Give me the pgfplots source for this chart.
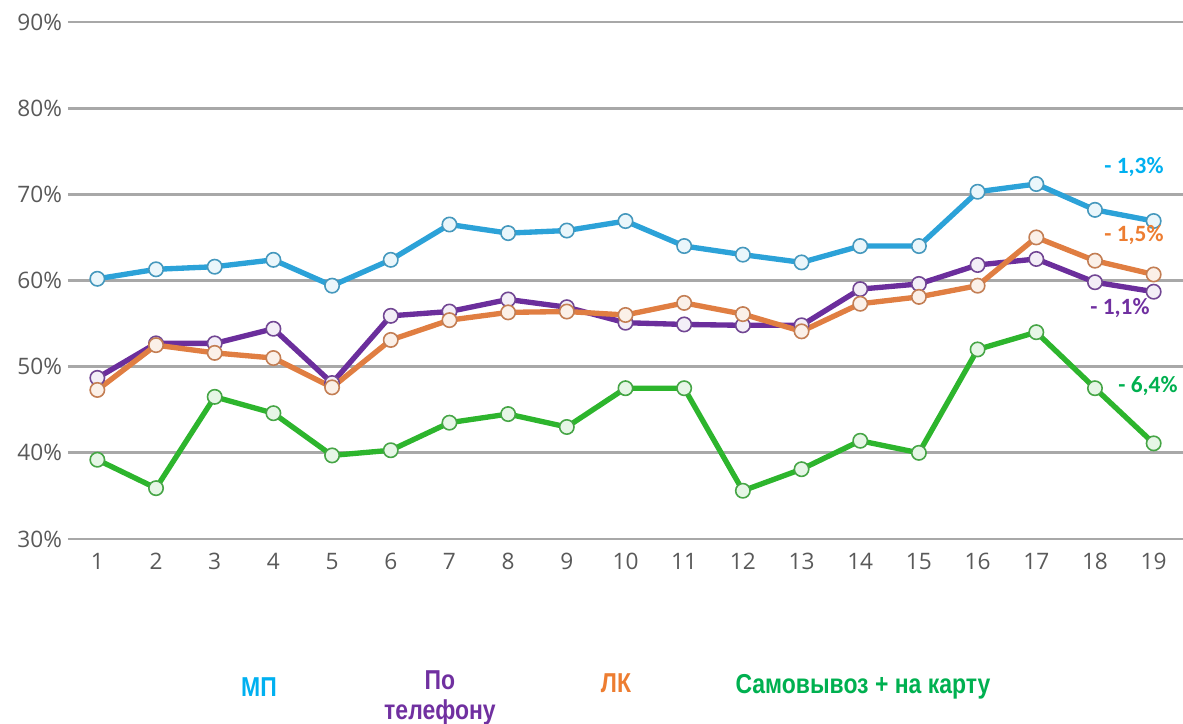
\documentclass[border=0pt]{standalone}
\usepackage{pgfplots}
\pgfplotsset{compat=1.18}
\usepackage{fontspec}
\setmainfont{Open Sans}
\newfontfamily\annfont{Carlito}
\newfontfamily\legfont[FakeStretch=0.84]{Liberation Sans}
\definecolor{cMP}{HTML}{2CA2D8}
\definecolor{cPh}{HTML}{6B2E9C}
\definecolor{cLK}{HTML}{E07E42}
\definecolor{cSV}{HTML}{2DB52D}
\definecolor{tMP}{HTML}{00B0F0}
\definecolor{tPh}{HTML}{7030A0}
\definecolor{tLK}{HTML}{ED7D31}
\definecolor{tSV}{HTML}{00B050}
\definecolor{tick}{HTML}{595959}
\definecolor{gridc}{HTML}{A8A8A8}
\begin{document}
\begin{tikzpicture}[x=0.75pt,y=-0.75pt]
\path[use as bounding box] (0,0) rectangle (1183,724);
\begin{axis}[
  at={(51pt,-404.25pt)}, anchor=south west,
  scale only axis, width=836.25pt, height=387.75pt,
  xmin=0.5, xmax=19.5, ymin=30, ymax=90,
  xtick={1,...,19}, ytick={30,40,...,90},
  yticklabel={\pgfmathprintnumber{\tick}\%},
  /pgf/number format/assume math mode=true,
  axis line style={draw=none},
  major tick length=0pt,
  ymajorgrids, grid style={gridc, line width=2.2pt},
  tick label style={font=\fontsize{17}{20}\selectfont, text=tick},
  yticklabel style={xshift=-1pt},
  xticklabel style={yshift=-7pt},
  clip=false,
  every axis plot/.append style={line width=4pt, mark=*, mark size=5.4pt, line join=round},
]
\addplot[cMP, mark options={fill=cMP!10!white, draw=cMP!70!gray, line width=1.2pt}] coordinates {
(1,60.2)(2,61.3)(3,61.6)(4,62.4)(5,59.4)(6,62.4)(7,66.5)(8,65.5)(9,65.8)(10,66.9)
(11,64.0)(12,63.0)(13,62.1)(14,64.0)(15,64.0)(16,70.3)(17,71.2)(18,68.2)(19,66.9)};
\addplot[cPh, mark options={fill=cPh!8!white, draw=cPh!70!gray, line width=1.2pt}] coordinates {
(1,48.7)(2,52.7)(3,52.7)(4,54.4)(5,48.1)(6,55.9)(7,56.4)(8,57.8)(9,56.9)(10,55.1)
(11,54.9)(12,54.8)(13,54.8)(14,59.0)(15,59.6)(16,61.8)(17,62.5)(18,59.8)(19,58.7)};
\addplot[cLK, mark options={fill=cLK!12!white, draw=cLK!70!gray, line width=1.2pt}] coordinates {
(1,47.3)(2,52.5)(3,51.6)(4,51.0)(5,47.6)(6,53.1)(7,55.4)(8,56.3)(9,56.4)(10,56.0)
(11,57.4)(12,56.1)(13,54.1)(14,57.3)(15,58.1)(16,59.4)(17,65.0)(18,62.3)(19,60.7)};
\addplot[cSV, mark options={fill=cSV!12!white, draw=cSV!70!gray, line width=1.2pt}] coordinates {
(1,39.2)(2,35.9)(3,46.5)(4,44.6)(5,39.7)(6,40.3)(7,43.5)(8,44.5)(9,43.0)(10,47.5)
(11,47.5)(12,35.6)(13,38.1)(14,41.4)(15,40.0)(16,52.0)(17,54.0)(18,47.5)(19,41.1)};
\end{axis}
\begin{scope}[font=\annfont\bfseries\fontsize{17.5}{20}\selectfont]
\node[text=tMP] at (1134,167) {- 1,3\%};
\node[text=tLK] at (1134,235) {- 1,5\%};
\node[text=tPh] at (1120,308) {- 1,1\%};
\node[text=tSV] at (1148,386) {- 6,4\%};
\end{scope}
\begin{scope}[font=\legfont\bfseries\fontsize{20.5}{23}\selectfont]
\node[text=tMP] at (259,687) {МП};
\node[text=tPh, align=center] at (440,698) {По\\телефону};
\node[text=tLK] at (616,683) {ЛК};
\node[text=tSV] at (863,687) {Самовывоз + на карту};
\end{scope}
\end{tikzpicture}
\end{document}
